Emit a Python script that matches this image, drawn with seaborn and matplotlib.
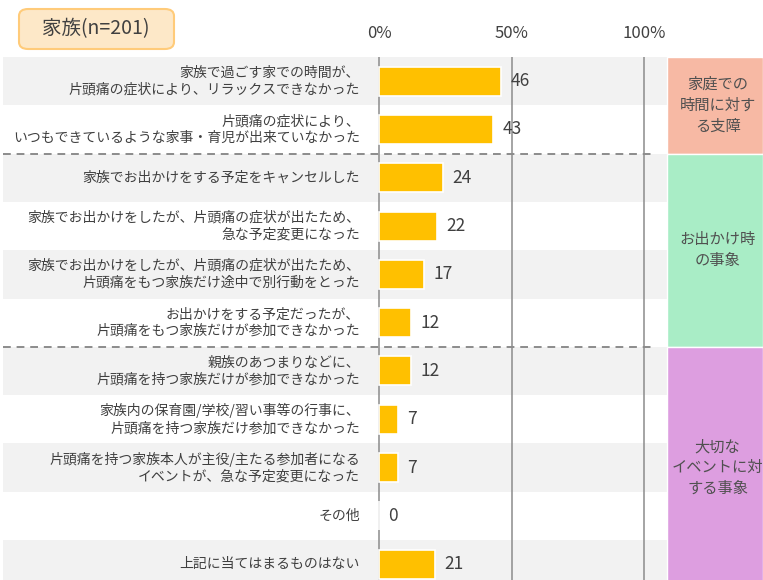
import matplotlib
matplotlib.use('Agg')
import matplotlib.pyplot as plt
import seaborn as sns
import pandas as pd
from matplotlib.patches import Rectangle, FancyBboxPatch

# data
labels = [
    "家族で過ごす家での時間が、\n片頭痛の症状により、リラックスできなかった",
    "片頭痛の症状により、\nいつもできているような家事・育児が出来ていなかった",
    "家族でお出かけをする予定をキャンセルした",
    "家族でお出かけをしたが、片頭痛の症状が出たため、\n急な予定変更になった",
    "家族でお出かけをしたが、片頭痛の症状が出たため、\n片頭痛をもつ家族だけ途中で別行動をとった",
    "お出かけをする予定だったが、\n片頭痛をもつ家族だけが参加できなかった",
    "親族のあつまりなどに、\n片頭痛を持つ家族だけが参加できなかった",
    "家族内の保育園/学校/習い事等の行事に、\n片頭痛を持つ家族だけ参加できなかった",
    "片頭痛を持つ家族本人が主役/主たる参加者になる\nイベントが、急な予定変更になった",
    "その他",
    "上記に当てはまるものはない",
]
values = [46, 43, 24, 22, 17, 12, 12, 7, 7, 0, 21]
groups = ["家庭での\n時間に対す\nる支障", "お出かけ時\nの事象", "大切な\nイベントに対\nする事象"]
group_rows = [(0, 1), (2, 5), (6, 10)]
group_colors = ["#F7B9A4", "#A9EDC6", "#DD9EE0"]
ticks = [0, 50, 100]
title = "家族(n=201)"

sns.set_theme(style="white")
plt.rcParams['font.family'] = ['Noto Sans CJK JP', 'DejaVu Sans']
txt = "#404040"

W, H = 763, 580
fig = plt.figure(figsize=(W / 100, H / 100), dpi=100)
top_px = 57
ax = fig.add_axes([0, 0, 1, 1 - top_px / H])

# pixel -> data mapping: 0% at x=379px, 100% at 644px
x0, ppu = 379, 2.65
ax.set_xlim(-x0 / ppu, (W - x0) / ppu)
row_h = 48.3
ylim = (-0.5 + (H - top_px) / row_h, -0.5)

df = pd.DataFrame({"label": labels, "value": values})

# alternating bands
for i in range(len(labels)):
    if i % 2 == 0:
        ax.axhspan(i - 0.5, i + 0.5, xmin=3 / W, xmax=667 / W, color="#F2F2F2", zorder=0, lw=0)

for t in ticks:
    ax.axvline(t, color="#8C8C8C", lw=1.1, zorder=1)

sns.barplot(data=df, x="value", y="label", orient="h", color="#FFC000",
            saturation=1, width=0.6, edgecolor="white", linewidth=1.2, ax=ax, zorder=3)
ax.set_ylim(*ylim)

for i, (lab, v) in enumerate(zip(labels, values)):
    ax.text(-7.2, i, lab, ha="right", va="center", fontsize=10, color=txt, linespacing=1.25)
    ax.text(v + 3.5, i, str(v), ha="left", va="center", fontsize=12.5, color=txt)

# dashed separators
for b in [1.5, 5.5]:
    ax.axhline(b, xmin=3 / W, xmax=652 / W, color="#8C8C8C", lw=1.4, ls=(0, (4, 3)), zorder=4)

# group boxes
gx0 = (667 - x0) / ppu
gx1 = (W - x0) / ppu
for g, (r0, r1), c in zip(groups, group_rows, group_colors):
    ax.add_patch(Rectangle((gx0, r0 - 0.5), gx1 - gx0, r1 - r0 + 1, facecolor=c,
                           edgecolor="white", lw=1, zorder=2))
    ax.text((gx0 + gx1) / 2 + 1, (r0 + r1) / 2, g, ha="center", va="center",
            fontsize=11, color="#505050", linespacing=1.3, zorder=5)

ax.xaxis.tick_top()
ax.set_xticks(ticks)
ax.set_xticklabels([f"{t}%" for t in ticks], fontsize=12, color=txt)
ax.tick_params(axis="x", length=0, pad=11)
ax.set_yticks([])
ax.set_xlabel("")
ax.set_ylabel("")
for s in ax.spines.values():
    s.set_visible(False)

# title box
fig.patches.append(FancyBboxPatch((19 / W, 1 - 49 / H), 155 / W, 40 / H,
                                  boxstyle="round,pad=0,rounding_size=0.012",
                                  transform=fig.transFigure, facecolor="#FDE8C8",
                                  edgecolor="#FFCB7A", lw=1.5))
fig.text(96 / W, 1 - 29 / H, title, ha="center", va="center", fontsize=14, color=txt)

fig.savefig("out.png", dpi=100)
